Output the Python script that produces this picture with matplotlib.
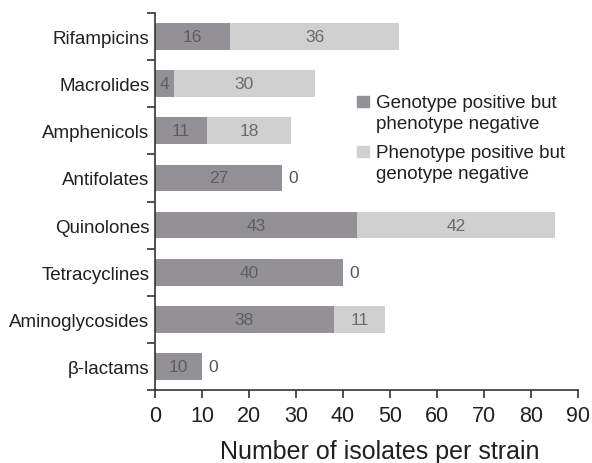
import matplotlib
matplotlib.use("Agg")
import matplotlib.pyplot as plt
from matplotlib.patches import Rectangle
import numpy as np

categories = ["Rifampicins", "Macrolides", "Amphenicols", "Antifolates",
              "Quinolones", "Tetracyclines", "Aminoglycosides", "β-lactams"]
geno_pos = [16, 4, 11, 27, 43, 40, 38, 10]
pheno_pos = [36, 30, 18, 0, 42, 0, 11, 0]
legend_labels = ["Genotype positive but\nphenotype negative",
                 "Phenotype positive but\ngenotype negative"]
xticks = list(range(0, 91, 10))

dark = "#939196"
light = "#d1d0d0"
W, H = 592, 464

plt.rcParams["font.family"] = ["Liberation Sans", "DejaVu Sans"]

fig = plt.figure(figsize=(W / 100, H / 100), dpi=100)
ax = fig.add_axes([155 / W, 1 - 391 / H, 423 / W, 377 / H])

y = np.arange(len(categories))[::-1]
h = 0.57
ax.barh(y, geno_pos, height=h, color=dark)
ax.barh(y, pheno_pos, left=geno_pos, height=h, color=light)

# Etiquetas de valores
for yi, g, p in zip(y, geno_pos, pheno_pos):
    ax.text(g / 2, yi, str(g), ha="center", va="center", fontsize=12.5,
            color="#5e5e62")
    if p > 0:
        ax.text(g + p / 2, yi, str(p), ha="center", va="center",
                fontsize=12.5, color="#6a6a6a")
    else:
        ax.text(g + 1.3, yi, "0", ha="left", va="center", fontsize=12.5,
                color="#555555")

ax.set_xlim(0, 90)
ax.set_ylim(-0.5, len(categories) - 0.5)
ax.set_xticks(xticks)
ax.set_xticklabels([str(t) for t in xticks], fontsize=15.5, color="#231f20")
ax.set_yticks(y)
ax.set_yticklabels(categories, fontsize=13.5, color="#231f20")
ax.tick_params(axis="y", length=0, pad=4)
ax.set_yticks(np.arange(-0.5, len(categories)), minor=True)
ax.tick_params(axis="y", which="minor", length=6, width=1.2, color="#333333")
ax.tick_params(axis="x", length=6, width=1.2, color="#333333", pad=5)

for s in ["top", "right"]:
    ax.spines[s].set_visible(False)
for s in ["left", "bottom"]:
    ax.spines[s].set_linewidth(1.2)
    ax.spines[s].set_color("#333333")

ax.set_xlabel("Number of isolates per strain", fontsize=18, color="#231f20")
ax.xaxis.set_label_coords((380 - 155) / 423, (391 - 440) / 377)

# Leyenda manual: cuadrado alineado con la primera línea de cada entrada
for color, label, top in zip([dark, light], legend_labels, [97, 147]):
    fig.patches.append(Rectangle((357 / W, 1 - (top + 11) / H), 12 / W, 11 / H,
                                 transform=fig.transFigure, color=color))
    fig.text(376 / W, 1 - (top - 1.5) / H, label, ha="left", va="top",
             fontsize=13.5, color="#231f20", linespacing=1.28)

fig.savefig("out.png", dpi=100)
